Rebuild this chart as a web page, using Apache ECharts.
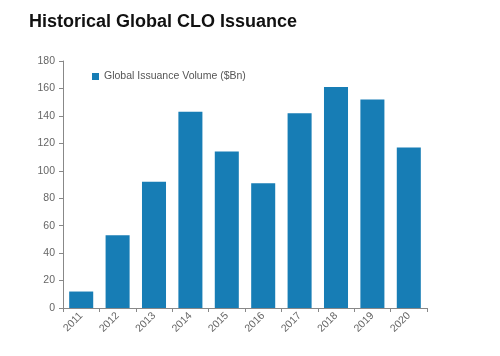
<!DOCTYPE html>
<html><head><meta charset="utf-8">
<script src="https://cdn.jsdelivr.net/npm/echarts@6/dist/echarts.min.js"></script>
<style>html,body{margin:0;padding:0;background:#fff}#c{width:500px;height:356px}</style>
</head><body><div id="c"></div>
<script>
var categories = ['2011','2012','2013','2014','2015','2016','2017','2018','2019','2020'];
var issuance = [12, 53, 92, 143, 114, 91, 142, 161, 152, 117];
var yTicks = [0, 20, 40, 60, 80, 100, 120, 140, 160, 180];
var chart = echarts.init(document.getElementById('c'), null, {renderer: 'canvas'});
chart.setOption({
  animation: false,
  title: {text: 'Historical Global CLO Issuance', left: 24, top: 8,
    textStyle: {fontFamily: 'Liberation Sans, Arial', fontSize: 18, fontWeight: 'bold', color: '#111'}},
  legend: {left: 87, top: 66, itemWidth: 7, itemHeight: 7, icon: 'rect', itemGap: 4,
    textStyle: {fontFamily: 'Liberation Sans, Arial', fontSize: 10.5, color: '#555'}},
  grid: {left: 63, top: 61, right: 73, bottom: 48},
  xAxis: {type: 'category', data: categories,
    axisLine: {lineStyle: {color: '#888'}},
    axisTick: {show: true, alignWithLabel: false, length: 4, lineStyle: {color: '#888'}},
    axisLabel: {rotate: 45, color: '#666', fontFamily: 'Liberation Sans, Arial', fontSize: 10.5, margin: 6}},
  yAxis: {type: 'value', min: yTicks[0], max: yTicks[yTicks.length-1], interval: 20,
    axisLine: {show: true, lineStyle: {color: '#888'}},
    axisTick: {show: true, length: 4, lineStyle: {color: '#888'}},
    splitLine: {show: false},
    axisLabel: {color: '#666', fontFamily: 'Liberation Sans, Arial', fontSize: 10.5, margin: 8}},
  series: [{name: 'Global Issuance Volume ($Bn)', type: 'bar', data: issuance,
    barCategoryGap: '34%', itemStyle: {color: '#177db5'}}]
});
</script></body></html>
